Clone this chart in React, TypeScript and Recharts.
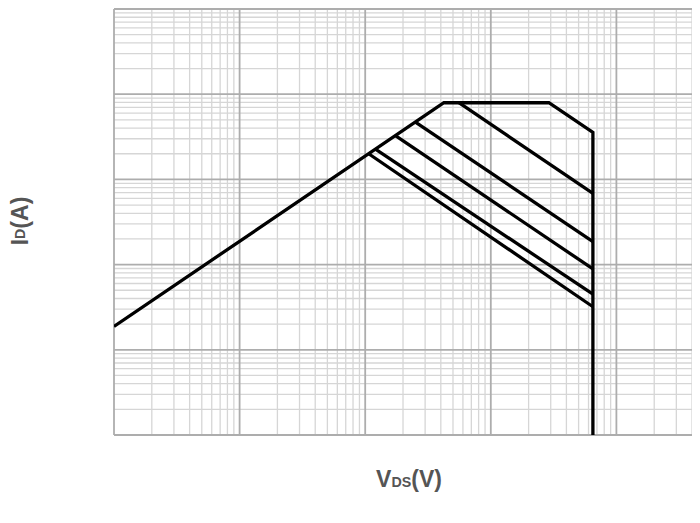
import React from 'react';
import { LineChart, Line, XAxis, YAxis, ReferenceLine } from 'recharts';

// log-log SOA chart, axes have no tick labels in the source
const xDecades = [0.1, 1, 10, 100, 1000];
const yDecades = [0.01, 0.1, 1, 10, 100];
const minorSteps = [2, 3, 4, 5, 6, 7, 8, 9];

// R_DS(on) limit + current limit + breakdown voltage
const limitLine = [
  { v: 0.1, i: 0.188 },
  { v: 42.3, i: 79.4 },
  { v: 290, i: 79.4 },
  { v: 650, i: 35.7 },
  { v: 650, i: 0.01 },
];

// single-pulse lines (constant power)
const pulseA = [{ v: 55.7, i: 79.4 }, { v: 650, i: 6.87 }];
const pulseB = [{ v: 25.1, i: 47.1 }, { v: 650, i: 1.86 }];
const pulseC = [{ v: 17.4, i: 32.6 }, { v: 650, i: 0.89 }];
const pulseD = [{ v: 12.06, i: 22.6 }, { v: 650, i: 0.45 }];
const pulseE = [{ v: 10.66, i: 20.0 }, { v: 650, i: 0.32 }];

const pulses = [pulseA, pulseB, pulseC, pulseD, pulseE];

const minorX = xDecades.flatMap((d) => minorSteps.map((m) => d * m));
const minorY = yDecades.flatMap((d) => minorSteps.map((m) => d * m));
const majorX = [...xDecades, 10000];
const majorY = [...yDecades, 1000];

const labelStyle: React.CSSProperties = {
  position: 'absolute',
  fontFamily: '"Liberation Sans", Arial, sans-serif',
  fontWeight: 'bold',
  fontSize: 23,
  color: '#555',
  whiteSpace: 'nowrap',
  lineHeight: 1,
};

const sub: React.CSSProperties = { fontSize: '0.62em' };

export default function App() {
  return (
    <div style={{ position: 'relative', width: 692, height: 515, background: '#fff' }}>
      {/* plot runs past the window edge in the source, so clip it */}
      <div style={{ position: 'absolute', left: 0, top: 0, width: 692, height: 515, overflow: 'hidden' }}>
        <LineChart width={740} height={515} margin={{ top: 1, right: 6, left: 106, bottom: 88 }}>
          <XAxis dataKey="v" type="number" scale="log" domain={[0.1, 10000]} allowDataOverflow hide />
          <YAxis dataKey="i" type="number" scale="log" domain={[0.01, 1000]} allowDataOverflow hide />
          {minorX.map((x) => (
            <ReferenceLine key={'mx' + x} x={x} stroke="#d6d6d6" strokeWidth={1.3} />
          ))}
          {minorY.map((y) => (
            <ReferenceLine key={'my' + y} y={y} stroke="#d6d6d6" strokeWidth={1.3} />
          ))}
          {majorX.map((x) => (
            <ReferenceLine key={'Mx' + x} x={x} stroke="#adadad" strokeWidth={1.8} />
          ))}
          {majorY.map((y) => (
            <ReferenceLine key={'My' + y} y={y} stroke="#adadad" strokeWidth={1.8} />
          ))}
          <Line data={limitLine} dataKey="i" stroke="#000" strokeWidth={3.3} dot={false} isAnimationActive={false} />
          {pulses.map((p, idx) => (
            <Line key={idx} data={p} dataKey="i" stroke="#000" strokeWidth={3.3} dot={false} isAnimationActive={false} />
          ))}
        </LineChart>
      </div>
      <div
        style={{
          ...labelStyle,
          left: 12,
          top: 213,
          writingMode: 'vertical-rl',
          transform: 'translate(-50%, -50%) rotate(180deg)',
        }}
      >
        I<span style={sub}>D</span>(A)
      </div>
      <div style={{ ...labelStyle, left: 401, top: 471, transform: 'translate(-50%, -50%)' }}>
        V<span style={sub}>DS</span>(V)
      </div>
    </div>
  );
}
